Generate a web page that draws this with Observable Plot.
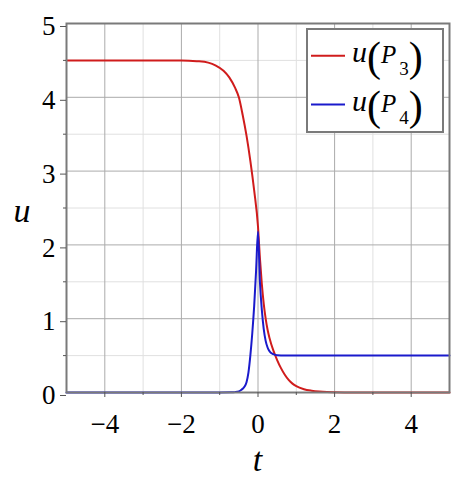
<!DOCTYPE html>
<html>
<head>
<meta charset="utf-8">
<script src="https://cdn.jsdelivr.net/npm/d3@7"></script>
<script src="https://cdn.jsdelivr.net/npm/@observablehq/plot@0.6"></script>
<style>
  html, body { margin: 0; padding: 0; background: #fff; }
  svg { display: block; }
</style>
</head>
<body>
<div id="chart"></div>
<script>
// ---- data ----
const redT  = [-5, -2, -1.6, -1.3, -1.1, -0.9, -0.75, -0.6, -0.5, -0.4, -0.3, -0.2, -0.1, 0, 0.05, 0.1, 0.15, 0.2, 0.25, 0.3, 0.4, 0.5, 0.6, 0.7, 0.8, 0.9, 1.0, 1.2, 1.4, 1.6, 1.8, 2.0, 2.5, 5];
const redU  = [4.5, 4.5, 4.49, 4.47, 4.43, 4.36, 4.27, 4.13, 4.0, 3.76, 3.48, 3.14, 2.74, 2.25, 1.82, 1.47, 1.2, 1.0, 0.85, 0.74, 0.57, 0.44, 0.33, 0.24, 0.17, 0.12, 0.085, 0.045, 0.025, 0.013, 0.006, 0.003, 0, 0];
const blueT = [-5, -1, -0.7, -0.6, -0.5, -0.45, -0.4, -0.35, -0.3, -0.25, -0.2, -0.15, -0.1, -0.05, 0, 0.05, 0.1, 0.15, 0.2, 0.25, 0.3, 0.4, 0.5, 0.7, 5];
const blueU = [0, 0, 0.002, 0.005, 0.015, 0.03, 0.05, 0.08, 0.14, 0.27, 0.5, 0.8, 1.17, 1.65, 2.18, 1.5, 1.12, 0.86, 0.7, 0.61, 0.56, 0.52, 0.505, 0.5, 0.5];
const xMajor = [-4, -2, 0, 2, 4];
const xMinor = [-3, -1, 1, 3];
const yMajor = [0, 1, 2, 3, 4, 5];
const yMinor = [0.5, 1.5, 2.5, 3.5, 4.5];
const seriesNames = ["3", "4"];
const xLabel = "t";
const yLabel = "u";

const RED = "#d01c1c";
const BLUE = "#1a1acc";
const FONT = '"Liberation Serif", "Times New Roman", serif';

const red = redT.map((t, i) => ({t, u: redU[i]}));
const blue = blueT.map((t, i) => ({t, u: blueU[i]}));
const fmt = d => d < 0 ? "\u2212" + (-d) : String(d);

const plot = Plot.plot({
  width: 466, height: 486,
  marginLeft: 66, marginRight: 17, marginTop: 23, marginBottom: 94,
  x: {domain: [-5, 5]},
  y: {domain: [0, 5]},
  style: {fontFamily: FONT},
  marks: [
    Plot.gridX(xMinor, {stroke: "#e0e0e0", strokeOpacity: 1, strokeWidth: 1}),
    Plot.gridY(yMinor, {stroke: "#e0e0e0", strokeOpacity: 1, strokeWidth: 1}),
    Plot.gridX(xMajor, {stroke: "#ababab", strokeOpacity: 1, strokeWidth: 1}),
    Plot.gridY(yMajor, {stroke: "#ababab", strokeOpacity: 1, strokeWidth: 1}),
    Plot.line(red, {x: "t", y: "u", stroke: RED, strokeWidth: 2, curve: "monotone-x"}),
    Plot.line(blue, {x: "t", y: "u", stroke: BLUE, strokeWidth: 2, curve: "monotone-x"}),
    Plot.frame({stroke: "#7a7a7a", strokeWidth: 2}),
    Plot.axisY(yMajor, {tickSize: 6, tickPadding: 5, fontSize: 27, dy: 3, tickFormat: fmt, label: null, stroke: "#555", fill: "#000"}),
    Plot.axisY(yMinor, {tickSize: 3, tickFormat: () => "", label: null, stroke: "#555"}),
    Plot.axisX(xMajor, {tickSize: 5, tickPadding: 16, fontSize: 27, tickFormat: fmt, label: null, stroke: "#555", fill: "#000"}),
    Plot.axisX(xMinor, {tickSize: 3, tickFormat: () => "", label: null, stroke: "#555"})
  ]
});
plot.setAttribute("font-family", FONT);
document.getElementById("chart").appendChild(plot);

// axis labels
const svg = d3.select(plot);
const label = (x, y, s) => svg.append("text")
  .attr("font-family", FONT).attr("x", x).attr("y", y)
  .attr("text-anchor", "middle").attr("font-size", 34)
  .attr("font-style", "italic").text(s);
label(22, 222, yLabel);
label(257.5, 471, xLabel);

// legend: one text element per row so glyphs flow without overlapping
const lg = svg.append("g");
lg.append("rect").attr("x", 307).attr("y", 29).attr("width", 136).attr("height", 103)
  .attr("fill", "#fff").attr("stroke", "#7a7a7a").attr("stroke-width", 2);
[RED, BLUE].forEach((c, i) => {
  const b = 61.7 + i * 49;
  const ly = 55.7 + i * 48.7;
  lg.append("line").attr("x1", 311).attr("x2", 345).attr("y1", ly).attr("y2", ly)
    .attr("stroke", c).attr("stroke-width", 2);
  const t = lg.append("text").attr("font-family", FONT).attr("x", 352).attr("y", b)
    .attr("text-anchor", "start").attr("font-size", 30).attr("font-style", "italic");
  t.append("tspan").text("u");
  t.append("tspan").attr("font-style", "normal").attr("font-size", 42).attr("dy", 9).text("(");
  t.append("tspan").attr("font-style", "italic").attr("font-size", 25).attr("dy", -7.4).text("P");
  t.append("tspan").attr("font-style", "normal").attr("font-size", 19).attr("dx", 3).attr("dy", 11.7).text(seriesNames[i]);
  t.append("tspan").attr("font-style", "normal").attr("font-size", 42).attr("dy", -4.3).text(")");
});

svg.selectAll("text").attr("font-family", FONT);
</script>
</body>
</html>
